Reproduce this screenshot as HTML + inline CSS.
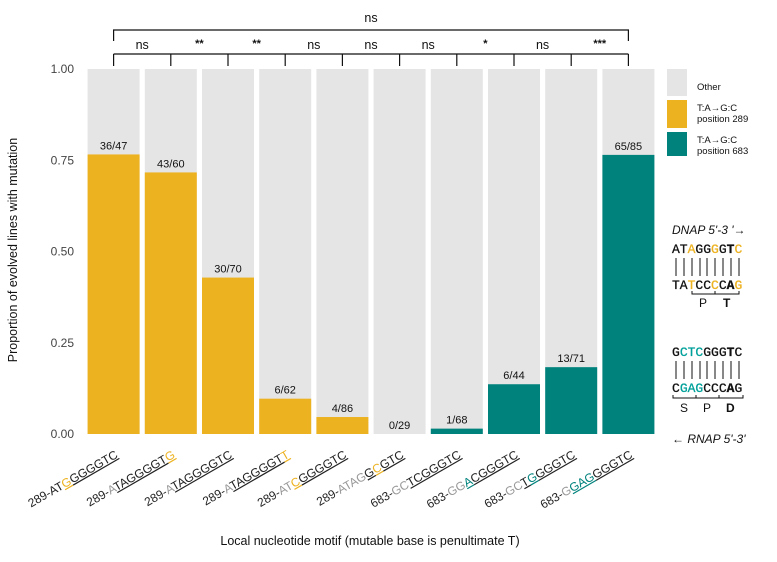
<!DOCTYPE html>
<html><head><meta charset="utf-8"><style>
body{margin:0;background:#fff;}
svg{display:block;font-family:"Liberation Sans",sans-serif;}
</style></head><body>
<svg id="chart" width="777" height="562" viewBox="0 0 777 562"></svg>
<script>
const categories=["289-ATGGGGTC","289-ATAGGGGTG","289-ATAGGGGTC","289-ATAGGGGTT","289-ATCGGGGTC","289-ATAGGCGTC","683-GCTCGGGTC","683-GGACGGGTC","683-GCTGGGGTC","683-GGAGGGGTC"];
const mutCounts=[36,43,30,6,4,0,1,6,13,65];
const totals=[47,60,70,62,86,29,68,44,71,85];
const seriesGroup=["289","289","289","289","289","289","683","683","683","683"];
const pairSig=["ns","**","**","ns","ns","ns","*","ns","***"];
const overallSig="ns";
const yTicks=[0,0.25,0.5,0.75,1];
const yTickLabels=["0.00","0.25","0.50","0.75","1.00"];
const labelParts=[
 [["289-AT","d",0],["G","y",1],["GGGGTC","d",1]],
 [["289-","d",0],["A","g",0],["TAGGGGT","d",1],["G","y",1]],
 [["289-","d",0],["A","g",0],["TAGGGGTC","d",1]],
 [["289-","d",0],["A","g",0],["TAGGGGT","d",1],["T","y",1]],
 [["289-","d",0],["AT","g",0],["C","y",1],["GGGGTC","d",1]],
 [["289-","d",0],["ATAG","g",0],["G","d",1],["C","y",1],["GTC","d",1]],
 [["683-","d",0],["GC","g",0],["TCGGGTC","d",1]],
 [["683-","d",0],["GG","g",0],["A","t",1],["CGGGTC","d",1]],
 [["683-","d",0],["GC","g",0],["T","d",1],["G","t",1],["GGGTC","d",1]],
 [["683-","d",0],["G","g",0],["GAG","t",1],["GGGTC","d",1]]
];
const col={d:"#222",g:"#999",y:"#EDB220",t:"#00827C"};
const X0=85,BAND=57.2,Y0=434,YH=365,BW=52;
const xc=i=>X0+BAND*i+BAND/2;
const ys=v=>Y0-v*YH;
const svg=document.getElementById('chart');
const NS="http://www.w3.org/2000/svg";
function mk(tag,attrs,parent){const e=document.createElementNS(NS,tag);for(const k in attrs)e.setAttribute(k,attrs[k]);(parent||svg).appendChild(e);return e;}

yTicks.forEach((t,i)=>{
 const tx=mk('text',{x:74,y:ys(t)+4,'text-anchor':'end','font-size':12,fill:'#444'});
 
 
 tx.textContent=yTickLabels[i];
});
const yt=mk('text',{x:17,y:250,'text-anchor':'middle','font-size':12.5,fill:'#111',transform:'rotate(-90 17 250)'});


yt.textContent="Proportion of evolved lines with mutation";

categories.forEach((c,i)=>{
 const v=mutCounts[i]/totals[i];
 const bg=mk('rect',{x:xc(i)-BW/2,y:ys(1),width:BW,height:YH,fill:'#E5E5E5'});
 
 
 const b=mk('rect',{x:xc(i)-BW/2,y:ys(v),width:BW,height:v*YH,fill:seriesGroup[i]==="289"?col.y:col.t});
 
 
 const lb=mk('text',{x:xc(i),y:ys(v)-5,'text-anchor':'middle','font-size':11,fill:'#111'});
 
 
 lb.textContent=mutCounts[i]+"/"+totals[i];
 const ax=xc(i)+5, ay=457;
 const tx=mk('text',{x:ax,y:ay,'text-anchor':'end','font-size':12,transform:`rotate(-30 ${ax} ${ay})`});
 
 
 labelParts[i].forEach(p=>{const s=mk('tspan',{fill:col[p[1]]},tx);if(p[2])s.setAttribute('text-decoration','underline');s.textContent=p[0];});
});

const g=mk('g',{stroke:'#111','stroke-width':1.2,fill:'none'});


mk('path',{d:`M${xc(0)} 41V30H${xc(9)}V41`},g);
mk('path',{d:`M${xc(0)} 54H${xc(9)}`},g);
for(let i=0;i<10;i++)mk('path',{d:`M${xc(i)} 54V66`},g);
const ot=mk('text',{x:(xc(0)+xc(9))/2,y:22,'text-anchor':'middle','font-size':12.5,fill:'#111'});


ot.textContent=overallSig;
pairSig.forEach((s,i)=>{
 const t=mk('text',{x:(xc(i)+xc(i+1))/2,y:s==="ns"?49:47,'text-anchor':'middle','font-size':s==="ns"?12.5:11,'font-weight':'bold',fill:'#111'});
 if(s==="ns")t.setAttribute('font-weight','normal');
 
 
 t.textContent=s;
});

const xt=mk('text',{x:370,y:545,'text-anchor':'middle','font-size':12.5,fill:'#111'});


xt.textContent="Local nucleotide motif (mutable base is penultimate T)";
</script>

<svg width="777" height="562" style="position:absolute;left:0;top:0">
 <g font-family="Liberation Sans, sans-serif" font-size="9.5" fill="#111">
  <rect x="667" y="69" width="20" height="27" fill="#E5E5E5"/>
  <text x="697" y="90">Other</text>
  <rect x="667" y="100" width="20" height="28" fill="#EDB220"/>
  <text x="697" y="111"><tspan x="697">T:A→G:C</tspan><tspan x="697" dy="11">position 289</tspan></text>
  <rect x="667" y="132" width="20" height="24" fill="#00827C"/>
  <text x="697" y="143"><tspan x="697">T:A→G:C</tspan><tspan x="697" dy="11">position 683</tspan></text>
 </g>
 <g>
  <text x="672" y="234" font-family="Liberation Sans, sans-serif" font-style="italic" font-size="12" fill="#111">DNAP 5'-3 '→</text>
  <text x="672" y="253" font-family="Liberation Mono, monospace" font-size="13" stroke="#111" stroke-width="0.3" fill="#111">AT<tspan fill="#EDB220" stroke="#EDB220">A</tspan>GG<tspan fill="#EDB220" stroke="#EDB220">G</tspan>G<tspan font-weight="bold">T</tspan><tspan fill="#EDB220" stroke="#EDB220">C</tspan></text>
  <g stroke="#111" stroke-width="1"><path d="M676 258V276M684 258V276M692 258V276M700 258V276M707 258V276M715 258V276M723 258V276M731 258V276M739 258V276"/></g>
  <text x="672" y="289" font-family="Liberation Mono, monospace" font-size="13" stroke="#111" stroke-width="0.3" fill="#111">TA<tspan fill="#EDB220" stroke="#EDB220">T</tspan>CC<tspan fill="#EDB220" stroke="#EDB220">C</tspan>C<tspan font-weight="bold">A</tspan><tspan fill="#EDB220" stroke="#EDB220">G</tspan></text>
  <path d="M692 291V294H739V291M715 291V294" stroke="#111" fill="none"/>
  <text x="699" y="307" font-family="Liberation Sans, sans-serif" font-size="12" fill="#111">P</text>
  <text x="723" y="307" font-family="Liberation Sans, sans-serif" font-size="12" font-weight="bold" fill="#111">T</text>
 </g>
 <g>
  <text x="672" y="356" font-family="Liberation Mono, monospace" font-size="13" stroke="#111" stroke-width="0.3" fill="#111">G<tspan fill="#00A09A" stroke="#00A09A">CTC</tspan>GGG<tspan font-weight="bold">T</tspan>C</text>
  <g stroke="#111" stroke-width="1"><path d="M676 361V379M684 361V379M692 361V379M700 361V379M707 361V379M715 361V379M723 361V379M731 361V379M739 361V379"/></g>
  <text x="672" y="392" font-family="Liberation Mono, monospace" font-size="13" stroke="#111" stroke-width="0.3" fill="#111">C<tspan fill="#00A09A" stroke="#00A09A">GAG</tspan>CCC<tspan font-weight="bold">A</tspan>G</text>
  <path d="M673 395V398H743V395M696 395V398M719 395V398" stroke="#111" fill="none"/>
  <text x="680" y="412" font-family="Liberation Sans, sans-serif" font-size="12" fill="#111">S</text>
  <text x="703" y="412" font-family="Liberation Sans, sans-serif" font-size="12" fill="#111">P</text>
  <text x="726" y="412" font-family="Liberation Sans, sans-serif" font-size="12" font-weight="bold" fill="#111">D</text>
  <text x="672" y="443" font-family="Liberation Sans, sans-serif" font-style="italic" font-size="12" fill="#111">← RNAP 5'-3'</text>
 </g>
</svg>
</body></html>
